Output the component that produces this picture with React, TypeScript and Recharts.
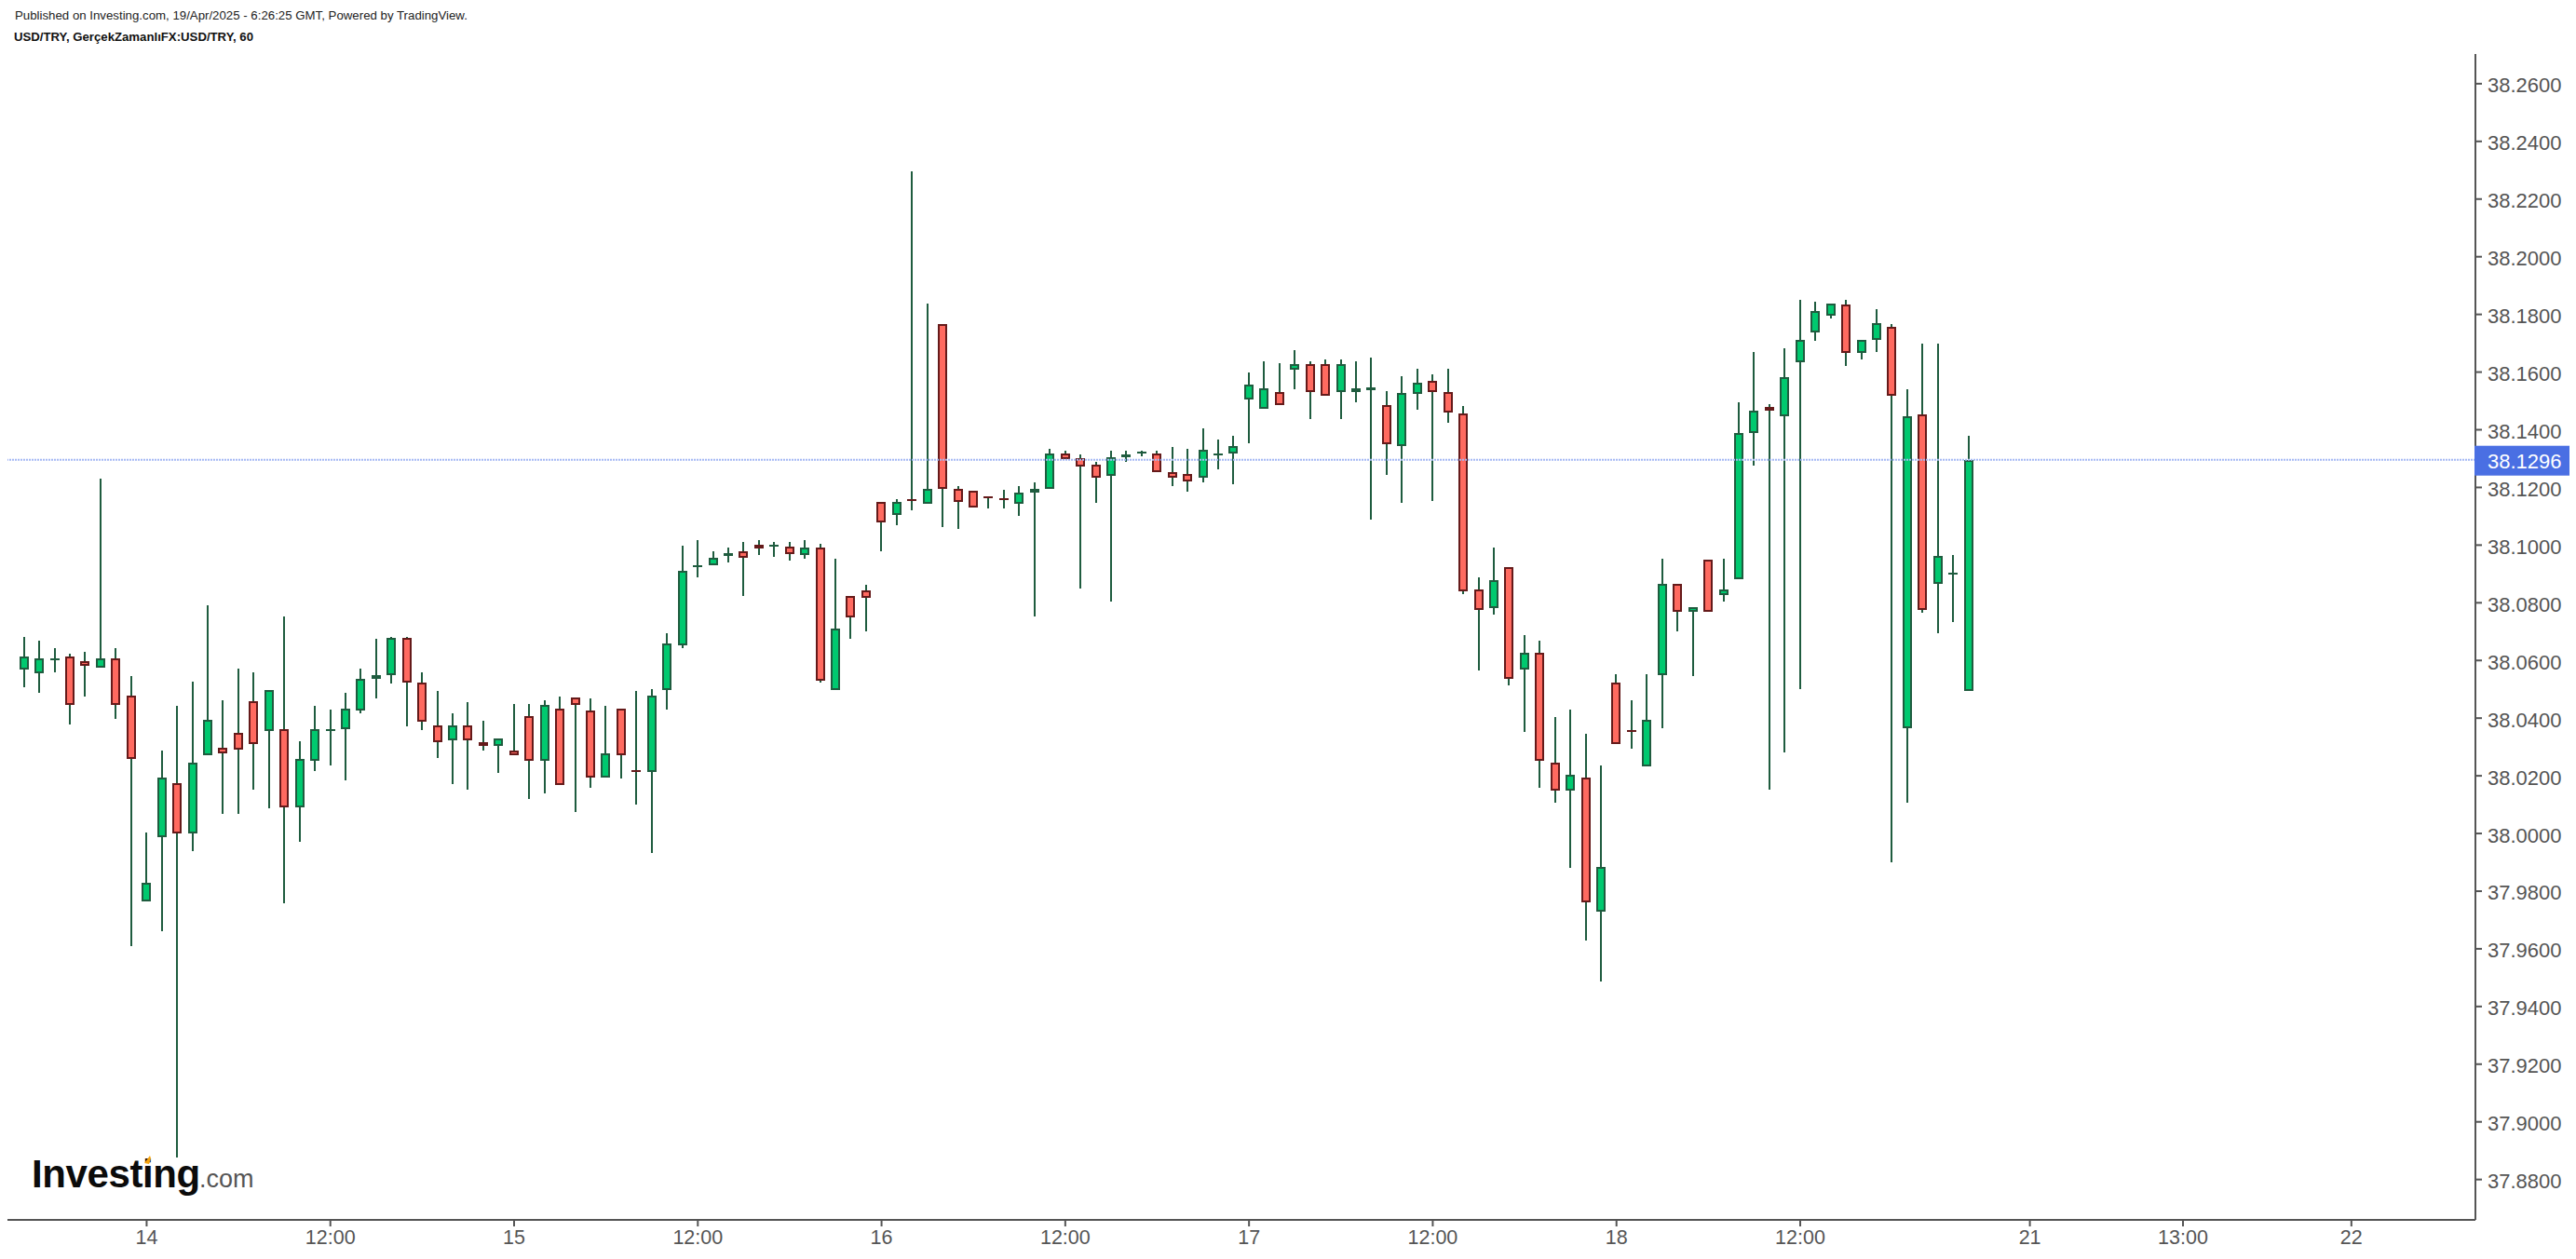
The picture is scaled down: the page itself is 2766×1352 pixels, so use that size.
import React from 'react';
import { Bar, ComposedChart, ReferenceLine, XAxis, YAxis } from 'recharts';

const opens = [
  38.0567, 38.0555, 38.0606, 38.0615, 38.0596, 38.0574, 38.0608, 38.0479,
  37.9764, 37.9986, 38.0176, 37.9999, 38.027, 38.0298, 38.035, 38.046,
  38.0354, 38.0363, 38.009, 38.0251, 38.0361, 38.0361, 38.0425, 38.0535,
  38.0548, 38.0679, 38.0524, 38.0376, 38.0322, 38.0376, 38.0318, 38.0303,
  38.0286, 38.0408, 38.0251, 38.0434, 38.0473, 38.0428, 38.0193, 38.0434,
  38.0221, 38.0212, 38.0497, 38.0652, 38.0929, 38.0929, 38.0961, 38.0977,
  38.1002, 38.1, 38.0996, 38.0967, 38.0991, 38.0498, 38.0822, 38.0842,
  38.1151, 38.1104, 38.1158, 38.1142, 38.1765, 38.1196, 38.119, 38.117,
  38.1164, 38.1142, 38.1181, 38.1194, 38.1319, 38.13, 38.128, 38.1239,
  38.1304, 38.1317, 38.1319, 38.1254, 38.1248, 38.1233, 38.131, 38.1317,
  38.1504, 38.1472, 38.1532, 38.1607, 38.1629, 38.1629, 38.153, 38.153,
  38.1536, 38.1487, 38.1343, 38.1523, 38.1571, 38.1532, 38.1455, 38.0847,
  38.0781, 38.0925, 38.0568, 38.0628, 38.0247, 38.0148, 38.0195, 37.9728,
  38.0524, 38.0358, 38.0232, 38.0548, 38.0867, 38.0768, 38.0951, 38.0828,
  38.0883, 38.1388, 38.148, 38.1446, 38.1634, 38.1737, 38.1794, 38.1835,
  38.1666, 38.1711, 38.1758, 38.0366, 38.1454, 38.0865, 38.0905, 38.0495,
];

const highs = [
  38.0682, 38.0669, 38.0643, 38.0624, 38.063, 38.1231, 38.0643, 38.0546,
  38.0003, 38.0288, 38.0443, 38.0527, 38.0791, 38.0462, 38.0572, 38.0559,
  38.0499, 38.0753, 38.032, 38.0443, 38.043, 38.0488, 38.0572, 38.0675,
  38.0682, 38.0682, 38.0559, 38.0494, 38.0417, 38.0456, 38.0391, 38.0331,
  38.0449, 38.0449, 38.0462, 38.0475, 38.0473, 38.0469, 38.0443, 38.0434,
  38.0494, 38.0501, 38.0695, 38.0998, 38.1018, 38.0979, 38.0992, 38.1011,
  38.1018, 38.1011, 38.1011, 38.1018, 38.1005, 38.0953, 38.0822, 38.0863,
  38.1151, 38.116, 38.2296, 38.1838, 38.1765, 38.1205, 38.119, 38.117,
  38.1192, 38.1205, 38.1218, 38.1334, 38.1328, 38.1315, 38.1289, 38.1328,
  38.1328, 38.1328, 38.1328, 38.134, 38.1334, 38.1405, 38.1366, 38.1379,
  38.1599, 38.1638, 38.1631, 38.1676, 38.1638, 38.1644, 38.1644, 38.1638,
  38.1651, 38.1534, 38.1586, 38.1612, 38.1592, 38.1612, 38.1483, 38.0888,
  38.0992, 38.0925, 38.0688, 38.0669, 38.0404, 38.043, 38.0346, 38.0236,
  38.0552, 38.0462, 38.0552, 38.0953, 38.0867, 38.0785, 38.0951, 38.0953,
  38.1496, 38.167, 38.1489, 38.1683, 38.1849, 38.1844, 38.1836, 38.1849,
  38.1713, 38.1818, 38.1766, 38.1539, 38.17, 38.17, 38.0965, 38.1379,
];

const lows = [
  38.0507, 38.0488, 38.0559, 38.0378, 38.0475, 38.0574, 38.0397, 37.9609,
  37.9764, 37.9661, 37.8876, 37.9939, 38.027, 38.0068, 38.0068, 38.0152,
  38.0087, 37.9758, 37.9971, 38.0217, 38.0236, 38.0184, 38.0417, 38.0469,
  38.052, 38.0372, 38.0359, 38.0262, 38.0171, 38.0152, 38.0288, 38.021,
  38.027, 38.012, 38.0139, 38.0167, 38.0074, 38.0158, 38.0193, 38.0191,
  38.01, 37.9932, 38.043, 38.0643, 38.0888, 38.0929, 38.094, 38.0824,
  38.0966, 38.0959, 38.0946, 38.0953, 38.0523, 38.0498, 38.0675, 38.0701,
  38.0979, 38.1069, 38.1121, 38.1142, 38.1063, 38.1056, 38.113, 38.1127,
  38.1127, 38.1101, 38.0753, 38.1194, 38.1297, 38.085, 38.1147, 38.0804,
  38.1289, 38.1308, 38.1252, 38.1205, 38.1185, 38.1218, 38.1263, 38.1211,
  38.1353, 38.1472, 38.1485, 38.1541, 38.1437, 38.1517, 38.1437, 38.1496,
  38.1089, 38.1244, 38.1147, 38.147, 38.1153, 38.1424, 38.083, 38.0565,
  38.0759, 38.0514, 38.0352, 38.0158, 38.0107, 37.9881, 37.9629, 37.9487,
  38.0309, 38.0294, 38.0232, 38.0366, 38.0702, 38.0547, 38.0768, 38.0805,
  38.0883, 38.1277, 38.0153, 38.0282, 38.0502, 38.1709, 38.1787, 38.162,
  38.1645, 38.1671, 37.9901, 38.0108, 38.0767, 38.0696, 38.0734, 38.0495,
];

const closes = [
  38.0615, 38.0608, 38.0608, 38.0445, 38.058, 38.0608, 38.0445, 38.0257,
  37.9828, 38.0195, 37.9999, 38.0247, 38.0395, 38.0277, 38.029, 38.0309,
  38.0499, 38.009, 38.026, 38.0363, 38.0363, 38.0434, 38.0537, 38.055,
  38.0679, 38.0522, 38.0387, 38.0316, 38.0376, 38.0322, 38.0303, 38.0331,
  38.027, 38.0251, 38.0447, 38.0167, 38.0445, 38.0193, 38.0279, 38.027,
  38.0212, 38.0479, 38.066, 38.0912, 38.0931, 38.0957, 38.0971, 38.0955,
  38.0987, 38.1002, 38.0968, 38.0991, 38.053, 38.0712, 38.0748, 38.0818,
  38.1078, 38.1151, 38.1155, 38.1196, 38.1194, 38.1149, 38.113, 38.1162,
  38.1162, 38.1183, 38.1196, 38.1319, 38.1297, 38.1272, 38.1233, 38.1306,
  38.1313, 38.1325, 38.1252, 38.1233, 38.122, 38.1332, 38.1319, 38.1345,
  38.1558, 38.1545, 38.1485, 38.1629, 38.153, 38.1517, 38.1629, 38.1545,
  38.1546, 38.1349, 38.1526, 38.1564, 38.153, 38.1459, 38.0839, 38.0774,
  38.088, 38.0535, 38.0628, 38.0251, 38.0148, 38.0202, 37.976, 37.9885,
  38.0309, 38.0354, 38.0395, 38.0867, 38.0768, 38.0785, 38.0768, 38.0847,
  38.139, 38.1467, 38.1466, 38.1583, 38.1713, 38.1811, 38.1836, 38.1666,
  38.1713, 38.177, 38.1517, 38.1447, 38.0775, 38.0963, 38.0905, 38.1296,
];

const priceTicks = [
  38.26, 38.24, 38.22, 38.2, 38.18, 38.16, 38.14, 38.12, 38.1, 38.08, 38.06,
  38.04, 38.02, 38.0, 37.98, 37.96, 37.94, 37.92, 37.9, 37.88,
];
const lastPrice = 38.1296;

const timeTicks = [8, 20, 32, 44, 56, 68, 80, 92, 104, 116, 131, 141, 152];
const timeLabels = ['14', '12:00', '15', '12:00', '16', '12:00', '17', '12:00', '18', '12:00', '21', '13:00', '22'];

const data = opens.map((open, index) => ({
  index,
  open,
  close: closes[index],
  range: [lows[index], highs[index]],
}));

const FONT = '"Liberation Sans", Arial, sans-serif';
const GREEN = '#00c96f';
const GREEN_DARK = '#1f5c3f';
const RED = '#ff6a60';
const RED_DARK = '#651a1a';
const AXIS = '#555555';

// body edges come from the same px-per-price ratio the bar got from the y scale,
// then get snapped to whole pixels so the outlines stay crisp
const Candle = (props: any) => {
  const { x, y, width, height, payload } = props;
  const [low, high] = payload.range;
  const ratio = height / (high - low);
  const up = payload.close >= payload.open;
  const top = Math.round(y + (high - Math.max(payload.open, payload.close)) * ratio);
  const bottom = Math.round(y + (high - Math.min(payload.open, payload.close)) * ratio);
  const left = Math.round(x);
  const cx = left + width / 2;
  const edge = up ? GREEN_DARK : RED_DARK;
  const bodyHeight = bottom - top;
  return (
    <g>
      <line x1={cx} x2={cx} y1={Math.round(y)} y2={Math.round(y + height)} stroke={GREEN_DARK} strokeWidth={2} />
      {bodyHeight < 4 ? (
        <rect x={left} y={top} width={width} height={Math.max(bodyHeight, 2)} fill={edge} />
      ) : (
        <rect
          x={left + 1}
          y={top + 1}
          width={width - 2}
          height={bodyHeight - 2}
          fill={up ? GREEN : RED}
          stroke={edge}
          strokeWidth={2}
        />
      )}
    </g>
  );
};

const PriceTick = (props: any) => {
  const { x, y, payload } = props;
  const isLast = payload.value === lastPrice;
  return (
    <g>
      {isLast && <rect x={x - 14} y={y - 15} width={102} height={32} fill="#4a6fe3" />}
      <text x={x} y={y + 9.5} fontFamily={FONT} fontSize={22} fill={isLast ? '#ffffff' : AXIS}>
        {payload.value.toFixed(4)}
      </text>
    </g>
  );
};

const formatTime = (value: number) => timeLabels[timeTicks.indexOf(value)];

export default function App() {
  return (
    <div style={{ position: 'absolute', left: 0, top: 0, width: 2766, height: 1352, overflow: 'hidden', background: '#fff' }}>
      <ComposedChart
        width={2766}
        height={1352}
        data={data}
        margin={{ top: 58, right: 0, bottom: 0, left: 8 }}
      >
        <XAxis
          dataKey="index"
          type="number"
          domain={[-1.09, 160.1]}
          allowDataOverflow
          ticks={timeTicks}
          interval={0}
          tickFormatter={formatTime}
          height={42}
          tickSize={7}
          tickMargin={4}
          axisLine={{ stroke: AXIS, strokeWidth: 2 }}
          tickLine={{ stroke: AXIS, strokeWidth: 2 }}
          tick={{ fill: AXIS, fontSize: 21.5, fontFamily: FONT }}
        />
        <YAxis
          orientation="right"
          type="number"
          domain={[37.866, 38.2703]}
          allowDataOverflow
          ticks={[...priceTicks, lastPrice]}
          interval={0}
          width={108}
          tickSize={7}
          tickMargin={6}
          axisLine={{ stroke: AXIS, strokeWidth: 2 }}
          tickLine={{ stroke: AXIS, strokeWidth: 2 }}
          tick={<PriceTick />}
        />
        <ReferenceLine y={lastPrice} stroke="#a4b8f4" strokeWidth={2} strokeDasharray="2 1" />
        <Bar dataKey="range" barSize={10} shape={<Candle />} isAnimationActive={false} />
      </ComposedChart>

      <div style={{ position: 'absolute', left: 16, top: 9, fontFamily: FONT, fontSize: 13.25, color: '#222', whiteSpace: 'nowrap' }}>
        Published on Investing.com, 19/Apr/2025 - 6:26:25 GMT, Powered by TradingView.
      </div>
      <div style={{ position: 'absolute', left: 15, top: 32, fontFamily: FONT, fontSize: 13.2, fontWeight: 700, color: '#111', whiteSpace: 'nowrap' }}>
        USD/TRY, GerçekZamanlıFX:USD/TRY, 60
      </div>

      <svg style={{ position: 'absolute', left: 0, top: 1230 }} width={300} height={60}>
        <text x={34} y={45} fontFamily={FONT} fontSize={42} fontWeight={700} fill="#0b0b0b" letterSpacing={-0.4}>
          Investing
        </text>
        <text x={214} y={45} fontFamily={FONT} fontSize={27} fill="#555">
          .com
        </text>
        <path d="M155 19 L161 11 L162 14 L160 20 Z" fill="#f7a30c" />
      </svg>
    </div>
  );
}
